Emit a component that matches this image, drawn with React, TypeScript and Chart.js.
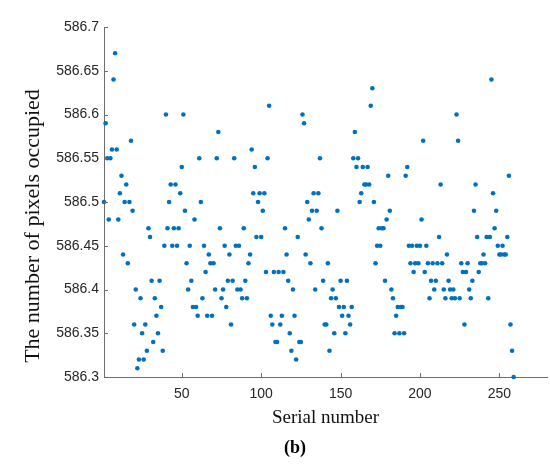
import { useEffect, useRef } from 'react';
import { Chart, registerables } from 'chart.js';

Chart.register(...registerables);

// Serial number i+1 -> number of pixels occupied
const pixelsOccupied: number[] = [
  586.50, 586.59, 586.55, 586.48, 586.55, 586.56, 586.64, 586.67, 586.56, 586.48,
  586.51, 586.53, 586.44, 586.50, 586.52, 586.43, 586.50, 586.57, 586.49, 586.36,
  586.40, 586.31, 586.32, 586.39, 586.35, 586.32, 586.36, 586.33, 586.47, 586.46,
  586.41, 586.34, 586.39, 586.37, 586.35, 586.41, 586.38, 586.33, 586.45, 586.60,
  586.47, 586.50, 586.52, 586.45, 586.47, 586.52, 586.45, 586.47, 586.51, 586.54,
  586.60, 586.49, 586.43, 586.40, 586.45, 586.41, 586.38, 586.48, 586.38, 586.37,
  586.55, 586.50, 586.39, 586.45, 586.42, 586.37, 586.44, 586.43, 586.37, 586.43,
  586.40, 586.55, 586.58, 586.47, 586.39, 586.40, 586.45, 586.38, 586.41, 586.44,
  586.36, 586.41, 586.55, 586.45, 586.40, 586.45, 586.40, 586.39, 586.47, 586.41,
  586.39, 586.43, 586.44, 586.56, 586.51, 586.54, 586.46, 586.50, 586.51, 586.46,
  586.49, 586.51, 586.42, 586.55, 586.61, 586.37, 586.36, 586.42, 586.34, 586.34,
  586.42, 586.36, 586.37, 586.42, 586.47, 586.44, 586.41, 586.35, 586.33, 586.40,
  586.37, 586.32, 586.46, 586.34, 586.34, 586.60, 586.59, 586.44, 586.50, 586.48,
  586.43, 586.49, 586.51, 586.40, 586.49, 586.51, 586.55, 586.47, 586.41, 586.36,
  586.36, 586.43, 586.33, 586.39, 586.40, 586.35, 586.39, 586.49, 586.38, 586.41,
  586.37, 586.38, 586.35, 586.41, 586.37, 586.36, 586.38, 586.55, 586.58, 586.54,
  586.55, 586.50, 586.51, 586.54, 586.52, 586.52, 586.54, 586.52, 586.61, 586.63,
  586.50, 586.43, 586.45, 586.47, 586.45, 586.47, 586.47, 586.41, 586.48, 586.53,
  586.49, 586.40, 586.39, 586.35, 586.37, 586.38, 586.35, 586.38, 586.38, 586.35,
  586.53, 586.54, 586.45, 586.43, 586.45, 586.42, 586.43, 586.45, 586.43, 586.45,
  586.48, 586.57, 586.42, 586.45, 586.43, 586.39, 586.41, 586.43, 586.40, 586.41,
  586.43, 586.46, 586.52, 586.43, 586.40, 586.39, 586.44, 586.41, 586.40, 586.39,
  586.40, 586.39, 586.60, 586.57, 586.39, 586.43, 586.42, 586.36, 586.42, 586.43,
  586.40, 586.39, 586.41, 586.49, 586.52, 586.46, 586.42, 586.43, 586.43, 586.44,
  586.43, 586.46, 586.39, 586.46, 586.64, 586.51, 586.47, 586.49, 586.45, 586.44,
  586.44, 586.45, 586.44, 586.44, 586.46, 586.53, 586.36, 586.33, 586.30,
];

const xTickValues: number[] = [50, 100, 150, 200, 250];
const yTickValues: number[] = [586.3, 586.35, 586.4, 586.45, 586.5, 586.55, 586.6, 586.65, 586.7];
const yTickLabels: string[] = ['586.3', '586.35', '586.4', '586.45', '586.5', '586.55', '586.6', '586.65', '586.7'];
const xAxisTitle = 'Serial number';
const yAxisTitle = 'The number of pixels occupied';
const panelLabel = '(b)';

const AXIS_COLOR = '#6e6e6e';
const TEXT_COLOR = '#262626';
const DOT_COLOR = '#0072BD';

const extrasPlugin = {
  id: 'extras',
  afterDraw(chart: any) {
    const ctx = chart.ctx;
    const area = chart.chartArea;
    const xs = chart.scales.x;
    const ys = chart.scales.y;
    ctx.save();
    // inward ticks
    ctx.strokeStyle = AXIS_COLOR;
    ctx.lineWidth = 1;
    ctx.beginPath();
    xTickValues.forEach((v) => {
      const px = Math.round(xs.getPixelForValue(v)) + 0.5;
      ctx.moveTo(px, area.bottom);
      ctx.lineTo(px, area.bottom - 4);
    });
    yTickValues.forEach((v) => {
      const py = Math.round(ys.getPixelForValue(v)) + 0.5;
      ctx.moveTo(area.left, py);
      ctx.lineTo(area.left + 4, py);
    });
    ctx.stroke();
    // y axis title
    ctx.fillStyle = '#111';
    ctx.font = '22px "Liberation Serif", "Times New Roman", serif';
    ctx.textAlign = 'center';
    ctx.textBaseline = 'middle';
    ctx.translate(33, 226);
    ctx.rotate(-Math.PI / 2);
    ctx.fillText(yAxisTitle, 0, 0);
    ctx.restore();
    // panel label
    ctx.save();
    ctx.fillStyle = '#000';
    ctx.font = 'bold 18px "Liberation Serif", "Times New Roman", serif';
    ctx.textAlign = 'center';
    ctx.textBaseline = 'middle';
    ctx.fillText(panelLabel, 295, 448);
    ctx.restore();
  },
};

export default function App() {
  const canvasRef = useRef<HTMLCanvasElement | null>(null);

  useEffect(() => {
    if (!canvasRef.current) return;
    const points = pixelsOccupied.map((v, i) => ({ x: i + 1, y: v }));
    const chart = new Chart(canvasRef.current, {
      type: 'scatter',
      data: {
        datasets: [
          {
            data: points,
            backgroundColor: DOT_COLOR,
            borderWidth: 0,
            pointRadius: 2.3,
            pointHoverRadius: 2.3,
            clip: false as any,
          },
        ],
      },
      plugins: [extrasPlugin],
      options: {
        responsive: false,
        animation: false,
        devicePixelRatio: 1,
        layout: { padding: { left: 0, right: 3, top: 27, bottom: 0 } },
        plugins: {
          legend: { display: false },
          tooltip: { enabled: false },
        },
        scales: {
          x: {
            type: 'linear',
            min: 1,
            max: 280,
            afterBuildTicks: (s: any) => {
              s.ticks = xTickValues.map((v) => ({ value: v }));
            },
            afterFit: (s: any) => {
              s.height = 88;
            },
            ticks: {
              autoSkip: false,
              maxRotation: 0,
              padding: 9,
              color: TEXT_COLOR,
              font: { family: '"Liberation Sans", Arial, sans-serif', size: 14 },
              callback: (v: any) => String(v),
            },
            grid: { display: true, drawOnChartArea: false, drawTicks: false, color: AXIS_COLOR },
            border: { display: true, color: AXIS_COLOR, width: 1 },
            title: {
              display: true,
              text: xAxisTitle,
              color: '#111',
              font: { family: '"Liberation Serif", "Times New Roman", serif', size: 19 },
              padding: { top: 0, bottom: 36 },
            },
          },
          y: {
            type: 'linear',
            min: 586.3,
            max: 586.7,
            afterBuildTicks: (s: any) => {
              s.ticks = yTickValues.map((v) => ({ value: v }));
            },
            afterFit: (s: any) => {
              s.width = 104;
            },
            ticks: {
              autoSkip: false,
              padding: 5,
              color: TEXT_COLOR,
              font: { family: '"Liberation Sans", Arial, sans-serif', size: 14 },
              callback: (_v: any, idx: number) => yTickLabels[idx],
            },
            grid: { display: true, drawOnChartArea: false, drawTicks: false, color: AXIS_COLOR },
            border: { display: true, color: AXIS_COLOR, width: 1 },
            title: { display: false },
          },
        },
      } as any,
    });
    return () => chart.destroy();
  }, []);

  return (
    <div style={{ position: 'absolute', left: 0, top: 0, width: 550, height: 465, background: '#fff' }}>
      <canvas ref={canvasRef} width={550} height={465} style={{ display: 'block', width: 550, height: 465 }} />
    </div>
  );
}
